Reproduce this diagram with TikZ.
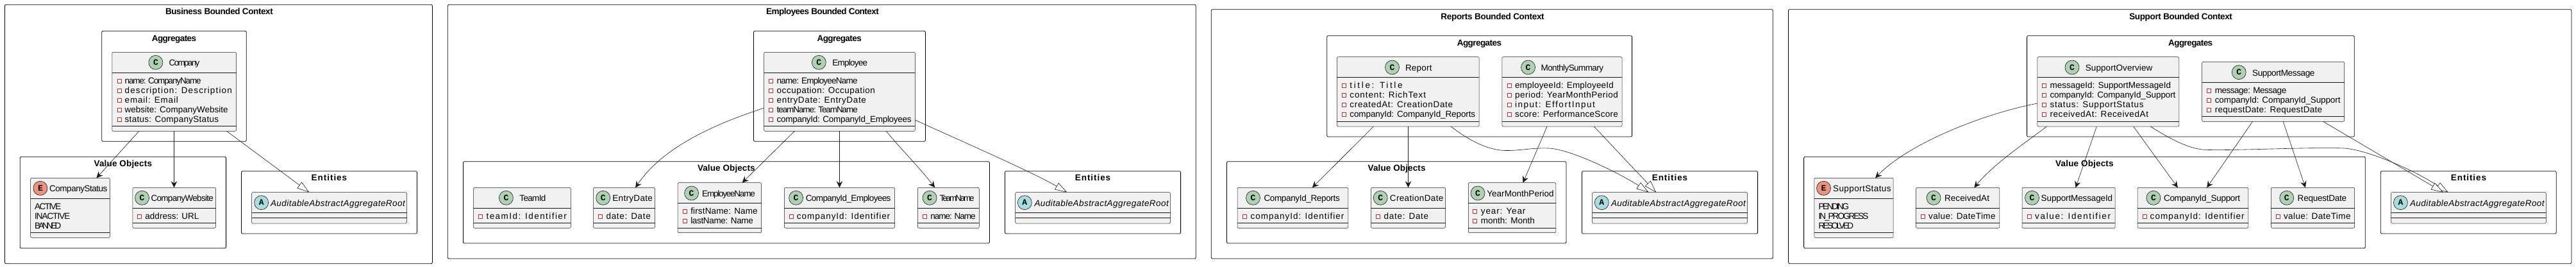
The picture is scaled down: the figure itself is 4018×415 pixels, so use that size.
\documentclass[tikz,border=0pt]{standalone}
\usepackage{fontspec}
\usetikzlibrary{arrows.meta,calc}
\setmainfont{Liberation Sans}
\newfontfamily\badgefont{Liberation Mono}[BoldFont={Liberation Mono Bold}]
\definecolor{boxfill}{HTML}{F1F1F1}
\definecolor{ink}{HTML}{181818}
\definecolor{privred}{HTML}{C82930}
\definecolor{cgreen}{HTML}{ADD1B2}
\definecolor{eorange}{HTML}{EB937F}
\definecolor{ablue}{HTML}{A9DCDF}
\newsavebox\fitbox
\newcounter{tn}
\ExplSyntaxOn
\newcommand\strcount[1]{\str_count:n{#1}}
\ExplSyntaxOff
\newcommand\fitted[3]{\begingroup #2\sbox\fitbox{#3}\edef\nch{\strcount{#3}}%
  \pgfmathsetmacro\lsp{100*(#1-\wd\fitbox)/(\nch-1)/\fsz}%
  \addfontfeature{LetterSpace=\lsp}#3\endgroup}
\newcommand\plainf{\fontsize{13.5}{15}\selectfont\def\fsz{13.5}}
\newcommand\italf{\fontsize{13.5}{15}\selectfont\itshape\def\fsz{13.5}}
\newcommand\boldf{\fontsize{13.5}{15}\selectfont\bfseries\def\fsz{13.5}}
\tikzset{
  textnode/.style={anchor=base west,inner sep=0pt,outer sep=0pt,text=black},
  framebox/.style={draw=black,line width=0.8pt,rounded corners=2pt,fill=none},
  classnode/.style={draw=ink,line width=0.5pt,fill=boxfill,rounded corners=2pt,inner sep=0pt,outer sep=0pt,anchor=north west},
  sepline/.style={draw=ink,line width=0.5pt},
  badge/.style={circle,draw=ink,line width=0.6pt,minimum size=22pt,inner sep=0pt,font=\badgefont\bfseries\fontsize{13}{13}\selectfont,text=black},
  privicon/.style={draw=privred,line width=0.7pt,fill=white},
  dep/.style={draw=ink,line width=0.6pt,-{Stealth[length=10pt,width=9.5pt,inset=3.5pt]}},
  inherit/.style={draw=ink,line width=0.6pt,-{Triangle[open,length=19pt,width=12pt,fill=white]}},
}
\newcommand\tx[5][\plainf]{\stepcounter{tn}\node[textnode,name=tx\arabic{tn}] at (#2,#3) {\fitted{#4-#2}{#1}{#5}};}
\newcommand\frm[5]{\stepcounter{tn}\pgfmathsetmacro\fw{#4-#2}\pgfmathsetmacro\fh{#5-#3}%
  \node[framebox,name=#1,minimum width=\fw pt,minimum height=\fh pt,inner sep=0pt,outer sep=0pt,anchor=north west] at (#2,#3) {};}
\newcommand\cls[7]{\pgfmathsetmacro\fw{#4-#2}\pgfmathsetmacro\fh{#5-#3}%
  \node[classnode,name=#1,minimum width=\fw pt,minimum height=\fh pt] at (#2,#3) {};
  \draw[sepline] (#1.west |- 0,#6) -- (#1.east |- 0,#6);
  \draw[sepline] (#1.west |- 0,#7) -- (#1.east |- 0,#7);}
\newcommand\bdg[5]{\node[badge,fill=#5,name=#1] at (#2,#3) {#4};}
\newcommand\attr[5]{\pgfmathsetmacro\ax{#1-3}\pgfmathsetmacro\ay{#2-3}%
  \draw[privicon] (\ax,\ay) rectangle ++(6,6);
  \pgfmathsetmacro\by{#2+4.5}\tx{#3}{\by}{#4}{#5}}
\begin{document}
\begin{tikzpicture}[x=1pt,y=-1pt]
\useasboundingbox (0,0) rectangle (4018,415);
% ---------- Business ----------
\frm{bizctx}{7.4}{7.3}{674.4}{410.7}\tx[\boldf]{258}{22.7}{425}{Business Bounded Context}
\frm{bizagg}{158.7}{48.3}{384.3}{220.3}\tx[\boldf]{236.8}{64}{306.2}{Aggregates}
\frm{bizvo}{31.2}{244.3}{352.6}{386.7}\tx[\boldf]{146.6}{259.5}{237.2}{Value Objects}
\frm{bizent}{376.4}{266.7}{650.5}{364}\tx[\boldf]{485.7}{281.5}{541.2}{Entities}
\cls{Company}{174.8}{81.3}{368.6}{204.3}{113.3}{196.3}
\bdg{CompanyB}{242.9}{97.3}{C}{cgreen}\tx{263.7}{102.7}{311.4}{Company}
\attr{186}{126.3}{194.7}{313}{name: CompanyName}
\attr{186}{141.3}{194.7}{362.6}{description: Description}
\attr{186}{156.3}{194.7}{278.4}{email: Email}
\attr{186}{171.3}{194.7}{355.6}{website: CompanyWebsite}
\attr{186}{186.3}{194.7}{341.3}{status: CompanyStatus}
\cls{CompanyStatus}{47.7}{277.3}{171.3}{370.3}{309.3}{362.3}
\bdg{CompanyStatusB}{62.9}{293.3}{E}{eorange}\tx{77.2}{298.7}{167.4}{CompanyStatus}
\tx{54.2}{326.5}{95.4}{ACTIVE}
\tx{54.2}{341.5}{109.3}{INACTIVE}
\tx{54.2}{356.5}{95.4}{BANNED}
\cls{CompanyWebsite}{206.9}{292.3}{336.5}{355.3}{324.3}{347.3}
\bdg{CompanyWebsiteB}{221.6}{308.3}{C}{cgreen}\tx{235.5}{313.7}{333}{CompanyWebsite}
\attr{217.3}{337}{226.4}{310.5}{address: URL}
\cls{AuditBiz}{392.5}{299.7}{634.5}{348}{331.7}{339.7}
\bdg{AuditBizB}{407.7}{315.7}{A}{ablue}\tx[\italf]{422}{321}{631.9}{AuditableAbstractAggregateRoot}
\draw[dep] (Company.south -| 216.9,0) -- (CompanyStatus.north -| 150.5,0);
\draw[dep] (Company.south -| 271.5,0) -- (CompanyWebsite.north -| 271.5,0);
\draw[inherit] (Company.south -| 353.5,0) -- (AuditBiz.north -| 482.3,0);
% ---------- Employees ----------
\frm{empctx}{698.3}{7.3}{1865.2}{403}\tx[\boldf]{1195.2}{22.7}{1369.7}{Employees Bounded Context}
\frm{empagg}{1175.5}{48.3}{1443.4}{220.3}\tx[\boldf]{1274.6}{64}{1343.8}{Aggregates}
\frm{empvo}{722.4}{251.7}{1543.4}{379}\tx[\boldf]{1088}{266.8}{1177.8}{Value Objects}
\frm{empent}{1567.5}{266.7}{1841.6}{364}\tx[\boldf]{1676.9}{281.5}{1732.2}{Entities}
\cls{Employee}{1191.6}{81.3}{1427.3}{204.3}{113.3}{196.3}
\bdg{EmployeeB}{1277.3}{97.3}{C}{cgreen}\tx{1298.3}{102.7}{1353.2}{Employee}
\attr{1202.7}{126.3}{1211.7}{1337.1}{name: EmployeeName}
\attr{1202.7}{141.3}{1211.7}{1365.2}{occupation: Occupation}
\attr{1202.7}{156.3}{1211.7}{1351.4}{entryDate: EntryDate}
\attr{1202.7}{171.3}{1211.7}{1337.1}{teamName: TeamName}
\attr{1202.7}{186.3}{1211.7}{1421.1}{companyId: CompanyId\_Employees}
\cls{TeamId}{738.5}{292.3}{890.3}{355.3}{324.3}{347.3}
\bdg{TeamIdB}{789.4}{308.3}{C}{cgreen}\tx{810.4}{313.7}{851.4}{TeamId}
\attr{749.2}{337}{758.6}{884.9}{teamId: Identifier}
\cls{EntryDate}{925.5}{292.3}{1021.5}{355.3}{324.3}{347.3}
\bdg{EntryDateB}{940.7}{308.3}{C}{cgreen}\tx{955.4}{313.7}{1017.9}{EntryDate}
\attr{936.2}{337}{945.6}{1015.3}{date: Date}
\cls{EmployeeName}{1057.2}{284.7}{1187.6}{362.7}{316.7}{355}
\bdg{EmployeeNameB}{1078.6}{301}{C}{cgreen}\tx{1095.2}{306.3}{1177.8}{EmployeeName}
\attr{1067.9}{329.3}{1077.3}{1181.8}{firstName: Name}
\attr{1067.9}{344.3}{1077.3}{1174.6}{lastName: Name}
\cls{CompanyIdEmp}{1223.3}{292.3}{1395.6}{355.3}{324.3}{347.3}
\bdg{CompanyIdEmpB}{1241.6}{308.3}{C}{cgreen}\tx{1256.8}{313.7}{1388.9}{CompanyId\_Employees}
\attr{1234}{337}{1242.9}{1388.9}{companyId: Identifier}
\cls{TeamName}{1431.3}{292.3}{1527.3}{355.3}{324.3}{347.3}
\bdg{TeamNameB}{1450.1}{308.3}{C}{cgreen}\tx{1465.7}{313.7}{1519.7}{TeamName}
\attr{1442.5}{337}{1451.4}{1521}{name: Name}
\cls{AuditEmp}{1583.6}{299.7}{1825.5}{348}{331.7}{339.7}
\bdg{AuditEmpB}{1598.3}{315.7}{A}{ablue}\tx[\italf]{1613.5}{321}{1822.8}{AuditableAbstractAggregateRoot}
\draw[dep] (Employee.west |- 0,168.3) .. controls (1100,198) and (1030,235) .. (EntryDate.north -| 991.1,0);
\draw[dep] (Employee.south -| 1239.3,0) -- (EmployeeName.north -| 1157.7,0);
\draw[dep] (Employee.south -| 1309.4,0) -- (CompanyIdEmp.north -| 1309.4,0);
\draw[dep] (Employee.south -| 1382.2,0) .. controls (1405,232) and (1435,262) .. (TeamName.north -| 1458.1,0);
\draw[inherit] (Employee.east |- 0,187) .. controls (1500,220) and (1610,268) .. (AuditEmp.north -| 1664.4,0);
% ---------- Reports ----------
\frm{repctx}{1889.3}{14.7}{2765.2}{403}\tx[\boldf]{2247.4}{30}{2408.1}{Reports Bounded Context}
\frm{repagg}{2069.7}{55.7}{2545.6}{213}\tx[\boldf]{2272.8}{71}{2342}{Aggregates}
\frm{repvo}{1913.5}{251.7}{2442.9}{379}\tx[\boldf]{2133.6}{266.8}{2223.7}{Value Objects}
\frm{repent}{2467.5}{266.7}{2741.6}{364}\tx[\boldf]{2576.8}{281.5}{2632.2}{Entities}
\cls{Report}{2085.4}{88.7}{2307.2}{197}{120.7}{189}
\bdg{ReportB}{2171.5}{105}{C}{cgreen}\tx{2192}{110.3}{2233.6}{Report}
\attr{2096.5}{133.3}{2105.4}{2189.4}{title: Title}
\attr{2096.5}{148.3}{2105.4}{2224.6}{content: RichText}
\attr{2096.5}{163.3}{2105.4}{2266.6}{createdAt: CreationDate}
\attr{2096.5}{178.3}{2105.4}{2301}{companyId: CompanyId\_Reports}
\cls{Monthly}{2342.9}{88.7}{2530}{197}{120.7}{189}
\bdg{MonthlyB}{2383.6}{105}{C}{cgreen}\tx{2403.6}{110.3}{2501}{MonthlySummary}
\attr{2354.1}{133.3}{2363}{2517}{employeeId: EmployeeId}
\attr{2354.1}{148.3}{2363}{2524.2}{period: YearMonthPeriod}
\attr{2354.1}{163.3}{2363}{2488.9}{input: EffortInput}
\attr{2354.1}{178.3}{2363}{2524.2}{score: PerformanceScore}
\cls{CompanyIdRep}{1930}{292.3}{2102.8}{355.3}{324.3}{347.3}
\bdg{CompanyIdRepB}{1954.5}{308.3}{C}{cgreen}\tx{1971.5}{313.7}{2089.4}{CompanyId\_Reports}
\attr{1941.1}{337}{1950.5}{2097}{companyId: Identifier}
\cls{CreationDate}{2138.5}{292.3}{2254.5}{355.3}{324.3}{347.3}
\bdg{CreationDateB}{2153.2}{308.3}{C}{cgreen}\tx{2167.9}{313.7}{2251.4}{CreationDate}
\attr{2149.2}{337}{2158.6}{2228.7}{date: Date}
\cls{YearMonth}{2290.3}{284.7}{2426.9}{362.7}{316.7}{355}
\bdg{YearMonthB}{2305}{301}{C}{cgreen}\tx{2319.3}{306.3}{2423.7}{YearMonthPeriod}
\attr{2300.5}{329.3}{2309.9}{2380}{year: Year}
\attr{2300.5}{344.3}{2309.9}{2393.8}{month: Month}
\cls{AuditRep}{2483.5}{299.7}{2725.5}{348}{331.7}{339.7}
\bdg{AuditRepB}{2498.3}{315.7}{A}{ablue}\tx[\italf]{2513}{321}{2722.8}{AuditableAbstractAggregateRoot}
\draw[dep] (Report.south -| 2142.5,0) -- (CompanyIdRep.north -| 2046.9,0);
\draw[dep] (Report.south -| 2196.5,0) -- (CreationDate.north -| 2196.5,0);
\draw[inherit] (Report.south -| 2263,0) .. controls (2290,218) and (2320,234) .. (2348,234.5) .. controls (2370,235) and (2390,230) .. (2415,231) .. controls (2450,232) and (2530,272) .. (AuditRep.north -| 2571.5,0);
\draw[dep] (Monthly.south -| 2413,0) -- (YearMonth.north -| 2375.5,0);
\draw[inherit] (Monthly.south -| 2486.2,0) -- (AuditRep.north -| 2583.1,0);
% ---------- Support ----------
\frm{supctx}{2789.5}{14.7}{4010.9}{410.7}\tx[\boldf]{3321.3}{30}{3481.2}{Support Bounded Context}
\frm{supagg}{3161.6}{55.7}{3672.3}{213}\tx[\boldf]{3382.2}{71}{3451.2}{Aggregates}
\frm{supvo}{2813.6}{244.3}{3689.3}{386.7}\tx[\boldf]{3206.2}{259.5}{3296.8}{Value Objects}
\frm{supent}{3713.3}{266.7}{3987.2}{364}\tx[\boldf]{3822.9}{281.5}{3878}{Entities}
\cls{Overview}{3177.8}{88.7}{3398.8}{197}{120.7}{189}
\bdg{OverviewB}{3232}{105}{C}{cgreen}\tx{3252.9}{110.3}{3357.3}{SupportOverview}
\attr{3188.4}{133.3}{3197.5}{3386.1}{messageId: SupportMessageId}
\attr{3188.4}{148.3}{3197.5}{3393.3}{companyId: CompanyId\_Support}
\attr{3188.4}{163.3}{3197.5}{3344.2}{status: SupportStatus}
\attr{3188.4}{178.3}{3197.5}{3351.4}{receivedAt: ReceivedAt}
\cls{Message}{3434.7}{96.3}{3656.6}{189.3}{128.3}{181.7}
\bdg{MessageB}{3492.2}{112.7}{C}{cgreen}\tx{3513.1}{118}{3610.4}{SupportMessage}
\attr{3445.3}{141.3}{3454.8}{3565.9}{message: Message}
\attr{3445.3}{156.3}{3454.8}{3650.3}{companyId: CompanyId\_Support}
\attr{3445.3}{171.3}{3454.8}{3622.3}{requestDate: RequestDate}
\cls{SupportStatus}{2829.8}{277.3}{2953.2}{370.3}{309.3}{362.3}
\bdg{SupportStatusB}{2844.5}{293.3}{E}{eorange}\tx{2859.1}{298.7}{2949.6}{SupportStatus}
\tx{2836.5}{326.5}{2884}{PENDING}
\tx{2836.5}{341.5}{2912.5}{IN\_PROGRESS}
\tx{2836.5}{356.5}{2891.1}{RESOLVED}
\cls{ReceivedAt}{2988.4}{292.3}{3118.9}{355.3}{324.3}{347.3}
\bdg{ReceivedAtB}{3016}{308.3}{C}{cgreen}\tx{3033}{313.7}{3103}{ReceivedAt}
\attr{2999}{337}{3008.1}{3112.9}{value: DateTime}
\cls{MessageId}{3154}{292.3}{3299.2}{355.3}{324.3}{347.3}
\bdg{MessageIdB}{3169.5}{308.3}{C}{cgreen}\tx{3183.7}{313.7}{3295.2}{SupportMessageId}
\attr{3165.1}{337}{3174.2}{3293.2}{value: Identifier}
\cls{CompanyIdSup}{3334}{292.3}{3506.8}{355.3}{324.3}{347.3}
\bdg{CompanyIdSupB}{3358.9}{308.3}{C}{cgreen}\tx{3375}{313.7}{3493.8}{CompanyId\_Support}
\attr{3345}{337}{3353.7}{3501.3}{companyId: Identifier}
\cls{RequestDate}{3542.3}{292.3}{3672.7}{355.3}{324.3}{347.3}
\bdg{RequestDateB}{3566.7}{308.3}{C}{cgreen}\tx{3583.7}{313.7}{3660.1}{RequestDate}
\attr{3552.9}{337}{3562}{3666.8}{value: DateTime}
\cls{AuditSup}{3729.5}{299.7}{3971.4}{348}{331.7}{339.7}
\bdg{AuditSupB}{3744.4}{315.7}{A}{ablue}\tx[\italf]{3759}{321}{3968.7}{AuditableAbstractAggregateRoot}
\draw[dep] (Overview.west |- 0,161) .. controls (3090,178) and (2975,225) .. (SupportStatus.north -| 2925.1,0);
\draw[dep] (Overview.south -| 3192.4,0) .. controls (3160,222) and (3110,255) .. (ReceivedAt.north -| 3079.3,0);
\draw[dep] (Overview.south -| 3270.3,0) -- (MessageId.north -| 3237.5,0);
\draw[dep] (Overview.south -| 3327.6,0) -- (CompanyIdSup.north -| 3396.8,0);
\draw[inherit] (Overview.south -| 3354.1,0) .. controls (3375,210) and (3410,232) .. (3439.4,233.3) .. controls (3480,235) and (3600,229) .. (3656.2,231) .. controls (3690,233) and (3760,262) .. (AuditSup.north -| 3818.5,0);
\draw[dep] (Message.south -| 3513.5,0) -- (CompanyIdSup.north -| 3442.2,0);
\draw[dep] (Message.south -| 3561.2,0) -- (RequestDate.north -| 3595.9,0);
\draw[inherit] (Message.south -| 3623.5,0) -- (AuditSup.north -| 3811,0);
\end{tikzpicture}
\end{document}
